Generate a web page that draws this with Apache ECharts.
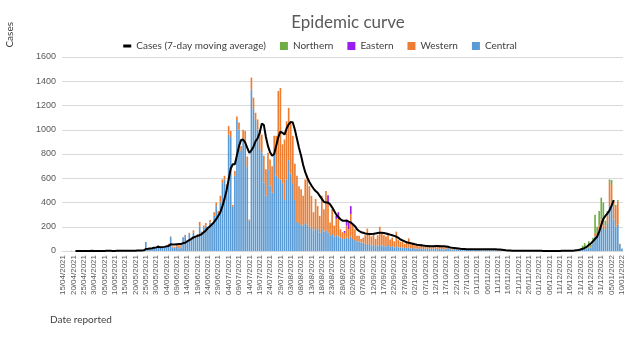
<!DOCTYPE html>
<html lang="en">
<head>
    <meta charset="UTF-8">
    <title>Epidemic curve</title>
    <script src="https://cdn.jsdelivr.net/npm/echarts@6/dist/echarts.min.js"></script>
    <style>
        * { margin: 0; padding: 0; }
        html, body { width: 640px; height: 352px; background: #fff; }
    </style>
</head>
<body>
<div id="main" style="width: 640px;height: 352px"></div>
<script>
    // daily cases by region, 15/04/2021 .. 10/01/2022 (271 days)
    var central = [
        0,0,1,0,2,1,0,1,3,1,
        2,1,0,3,2,1,2,0,1,2,
        1,3,2,0,1,2,1,3,2,4,
        3,2,5,3,4,2,6,8,5,10,
        75,18,22,25,30,28,45,32,26,30,
        45,55,115,30,25,40,22,28,110,130,
        80,140,100,150,110,125,200,145,195,210,
        190,235,215,290,370,310,400,560,590,520,
        960,940,365,620,1080,1000,825,930,880,700,
        250,1330,1170,1080,1000,840,810,565,455,675,
        540,480,810,620,600,590,560,420,590,750,
        640,560,420,240,230,220,210,230,220,200,
        190,170,190,180,150,180,160,170,150,130,
        140,120,130,120,110,100,100,110,100,120,
        100,90,80,80,70,70,60,50,60,45,
        50,40,45,50,45,40,40,50,35,40,
        30,40,30,30,30,25,25,30,20,25,
        20,20,15,20,15,20,15,20,15,20,
        15,15,20,15,12,20,25,15,12,18,
        10,15,10,8,12,9,8,11,6,9,
        10,8,9,6,11,9,8,10,9,8,
        9,6,5,4,3,3,2,2,2,2,
        2,2,1,2,3,2,1,2,2,1,
        2,3,1,1,2,1,0,1,2,1,
        0,1,2,1,2,2,3,2,5,5,
        8,15,20,20,30,25,60,120,110,170,
        200,190,180,230,370,400,260,200,220,50,
        18
    ];
    var western = [
        0,0,0,0,0,0,0,0,0,0,
        0,0,0,0,0,0,0,0,0,0,
        0,0,0,0,0,0,0,0,0,0,
        0,0,0,0,0,0,0,0,0,0,
        0,0,0,0,2,0,3,5,8,4,
        5,5,5,8,10,15,25,20,5,5,
        5,10,10,20,10,15,40,15,15,20,
        10,20,15,30,30,20,55,30,30,30,
        70,50,15,40,30,60,40,70,110,80,
        10,100,95,60,85,160,150,220,220,135,
        215,220,140,330,720,755,320,500,480,430,
        415,390,300,380,305,290,245,360,400,335,
        265,150,240,190,140,275,185,325,235,105,
        205,90,135,160,70,55,50,100,80,185,
        110,90,45,45,30,40,70,135,90,75,
        90,60,85,150,105,90,80,90,60,70,
        50,120,60,45,50,35,45,75,35,35,
        25,30,25,35,25,25,20,30,15,25,
        25,20,30,25,18,15,15,10,8,12,
        5,10,8,4,8,6,4,7,4,5,
        6,4,6,4,7,5,4,6,6,4,
        5,4,3,2,2,1,1,1,0,1,
        0,0,0,0,0,0,0,0,0,0,
        0,0,0,0,0,0,0,0,0,0,
        0,0,0,0,0,0,0,0,0,0,
        0,0,5,0,10,5,10,30,30,40,
        60,50,30,60,200,145,150,170,190,10,
        2
    ];
    var eastern = [
        0,0,0,0,0,0,0,0,0,0, 0,0,0,0,0,0,0,0,0,0,
        0,0,0,0,0,0,0,0,0,0, 0,0,0,0,0,0,0,0,0,0,
        0,0,0,0,0,0,0,0,0,0, 0,0,0,0,0,0,0,0,0,0,
        0,0,0,0,0,0,0,0,0,0, 0,0,0,0,0,0,0,0,0,0,
        0,0,0,0,0,0,0,0,0,0, 0,0,0,0,0,0,0,0,0,0,
        0,0,0,0,0,0,0,0,0,0, 0,0,0,0,0,0,0,0,0,0,
        0,0,0,0,0,0,0,0,75,0,
        0,0,25,40,0,0,15,50,55,65,
        10,0,0,0,0,0,0,0,0,0,
        0,0,0,0,0,0,0,0,0,0, 0,0,0,0,0,0,0,0,0,0,
        0,0,0,0,0,0,0,0,0,0, 0,0,0,0,0,0,0,0,0,0,
        0,0,0,0,0,0,0,0,0,0, 0,0,0,0,0,0,0,0,0,0,
        0,0,0,0,0,0,0,0,0,0, 0,0,0,0,0,0,0,0,0,0,
        0,0,0,0,0,0,0,0,0,0, 0,0,0,0,0,0,0,0,0,0,
        0,0,0,0,0,0,0,0,0,0, 0
    ];
    var northern = [
        0,0,0,0,0,0,0,0,0,0, 0,0,0,0,0,0,0,0,0,0,
        0,0,0,0,0,0,0,0,0,0, 0,0,0,0,0,0,0,0,0,0,
        0,0,0,0,0,0,0,0,0,0, 0,0,0,0,0,0,0,0,0,0,
        0,0,0,0,0,0,0,0,0,0, 0,0,0,0,0,0,0,0,0,0,
        0,0,0,0,0,0,0,0,0,0, 0,0,0,0,0,0,0,0,0,0,
        0,0,0,0,0,0,0,0,0,0, 0,0,0,0,0,0,0,0,0,0,
        0,0,0,0,0,0,0,0,0,0, 0,0,0,0,0,0,0,0,0,0,
        0,0,0,0,0,0,0,0,0,0, 0,0,0,0,0,0,0,0,0,0,
        0,0,0,0,0,0,0,0,0,0, 0,0,0,0,0,0,0,0,0,0,
        0,0,0,0,0,0,0,0,0,0, 0,0,0,0,0,0,0,0,0,0,
        0,0,0,0,0,0,0,0,0,0, 0,0,0,0,0,0,0,0,0,0,
        0,0,0,0,0,0,0,0,0,0, 0,0,0,0,0,0,0,0,0,0,
        0,0,0,0,0,0,0,0,0,10,
        12,30,40,20,40,20,40,150,60,120,
        180,160,40,40,20,40,10,10,10,0,
        0
    ];
    // 7-day moving average as drawn
    var movingAvg = [
        null,null,null,null,null,null,1,1,1,1,
        1,1,1,1,2,1,1,1,1,1,
        1,2,2,2,1,1,2,2,2,2,
        2,3,3,3,3,3,4,4,5,6,
        16,18,21,23,27,30,35,30,32,34,
        38,42,55,53,53,56,58,58,65,68,
        80,90,100,112,118,125,130,140,155,170,
        190,205,220,240,262,290,320,370,430,500,
        590,680,715,715,790,865,915,920,895,850,
        810,830,860,905,930,975,1050,1040,940,865,
        815,785,800,870,940,985,975,960,1010,1045,
        1065,1060,1000,925,850,785,710,650,605,570,
        540,515,495,480,455,430,405,400,400,385,
        360,330,300,280,262,250,250,250,242,235,
        220,205,180,165,155,150,145,142,140,140,
        142,145,148,150,150,148,145,140,135,130,
        125,118,108,95,88,80,72,68,64,60,
        55,52,50,48,45,43,42,40,40,40,
        42,42,40,40,40,38,35,30,26,24,
        22,20,18,17,16,15,15,14,14,14,
        14,14,14,14,15,15,14,14,14,14,
        13,12,10,8,6,5,4,3,3,3,
        3,2,2,2,2,2,2,2,2,2,
        2,2,1,1,1,1,1,1,1,1,
        1,2,2,2,2,3,3,4,6,8,
        12,18,25,35,50,62,80,100,118,160,
        215,265,290,310,335,375,420,null,null,null,
        null
    ];

    var yTicks = {min: 0, max: 1600, interval: 200};

    // date categories dd/mm/yyyy
    var dates = [];
    var start = new Date(2021, 3, 15);
    for (var i = 0; i < central.length; i++) {
        var d = new Date(start.getFullYear(), start.getMonth(), start.getDate() + i);
        var dd = ('0' + d.getDate()).slice(-2);
        var mm = ('0' + (d.getMonth() + 1)).slice(-2);
        dates.push(dd + '/' + mm + '/' + d.getFullYear());
    }

    var myChart = echarts.init(document.getElementById('main'));
    var barCommon = {type: 'bar', stack: 'cases', barCategoryGap: '20%'};

    var option = {
        animation: false,
        textStyle: {fontFamily: 'Lato'},
        title: {
            text: 'Epidemic curve',
            left: 343,
            textAlign: 'center',
            top: 9,
            textStyle: {fontSize: 17, fontWeight: 'normal', color: '#595959', fontFamily: 'Lato'}
        },
        legend: {
            top: 36,
            left: 'center',
            itemWidth: 8,
            itemHeight: 8,
            itemGap: 14,
            textStyle: {fontSize: 10, color: '#404040', fontFamily: 'Lato'},
            data: [
                // flat bar inside an 8x8 box
                {name: 'Cases (7-day moving average)', icon: 'path://M0,0L0,0.01M0,3.2H10V6.8H0ZM10,10L10,9.99'},
                {name: 'Northern', icon: 'rect'},
                {name: 'Eastern', icon: 'rect'},
                {name: 'Western', icon: 'rect'},
                {name: 'Central', icon: 'rect'}
            ]
        },
        grid: {left: 62, right: 17, top: 57, bottom: 101},
        xAxis: {
            type: 'category',
            data: dates,
            axisTick: {show: false},
            axisLine: {lineStyle: {color: '#d9d9d9'}},
            axisLabel: {
                interval: 4,
                rotate: 90,
                fontSize: 8,
                color: '#595959',
                fontFamily: 'Liberation Sans',
                margin: 4
            }
        },
        yAxis: {
            type: 'value',
            min: yTicks.min,
            max: yTicks.max,
            interval: yTicks.interval,
            axisLine: {show: false},
            axisTick: {show: false},
            axisLabel: {
                fontSize: 9, color: '#595959', margin: 6, fontFamily: 'Liberation Sans',
                formatter: function (v) { return String(v); }
            },
            splitLine: {lineStyle: {color: '#d9d9d9'}}
        },
        graphic: [
            {
                type: 'text', left: 5, top: 22, rotation: Math.PI / 2,
                style: {text: 'Cases', fontSize: 10, fill: '#404040', fontFamily: 'Lato'}
            },
            {
                type: 'text', left: 50, top: 315,
                style: {text: 'Date reported', fontSize: 10, fill: '#404040', fontFamily: 'Lato'}
            }
        ],
        series: [
            Object.assign({name: 'Central', data: central, itemStyle: {color: '#5b9bd5'}}, barCommon),
            Object.assign({name: 'Western', data: western, itemStyle: {color: '#ed7d31'}}, barCommon),
            Object.assign({name: 'Eastern', data: eastern, itemStyle: {color: '#9a1cf0'}}, barCommon),
            Object.assign({name: 'Northern', data: northern, itemStyle: {color: '#70ad47'}}, barCommon),
            {
                name: 'Cases (7-day moving average)',
                type: 'line',
                data: movingAvg,
                symbol: 'none',
                z: 5,
                itemStyle: {color: '#000'},
                lineStyle: {color: '#000', width: 2}
            }
        ]
    };

    myChart.setOption(option);
</script>
</body>
</html>
